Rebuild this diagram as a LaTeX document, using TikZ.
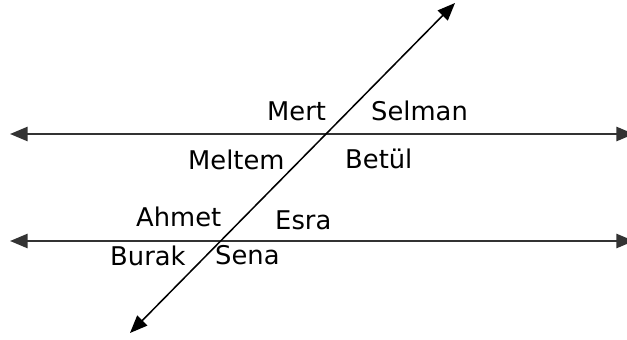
\documentclass[tikz,border=0pt]{standalone}
\usepackage{fontspec}
\setmainfont{DejaVu Sans}
\usetikzlibrary{arrows.meta}
\begin{document}
\begin{tikzpicture}[x=0.3mm,y=-0.3mm,>={Triangle[length=15pt,width=12pt]},
  font=\fontsize{22}{26}\selectfont,
  lbl/.style={anchor=base west,inner sep=0pt},
  hline/.style={<->,line width=2pt,draw=black!80},
  tline/.style={<->,line width=1.3pt}]
  \useasboundingbox (0,0) rectangle (627,339);

  % End points of the three lines
  \coordinate (upL) at (10,134);
  \coordinate (upR) at (634,134);
  \coordinate (loL) at (10,241);
  \coordinate (loR) at (634,241);
  \coordinate (trT) at (455,3);
  \coordinate (trB) at (130,333);

  % Two parallel lines and the transversal
  \draw[hline] (upL) -- (upR);
  \draw[hline] (loL) -- (loR);
  \draw[tline] (trB) -- (trT);

  % Angles at the upper crossing
  \node[lbl] (mert) at (267,120) {Mert};
  \node[lbl] (selman) at (371,120) {Selman};
  \node[lbl] (meltem) at (188,169) {Meltem};
  \node[lbl] (betul) at (345,168) {Betül};

  % Angles at the lower crossing
  \node[lbl] (ahmet) at (136,226) {Ahmet};
  \node[lbl] (esra) at (275,229) {Esra};
  \node[lbl] (burak) at (110,265) {Burak};
  \node[lbl] (sena) at (215,264) {Sena};
\end{tikzpicture}
\end{document}
